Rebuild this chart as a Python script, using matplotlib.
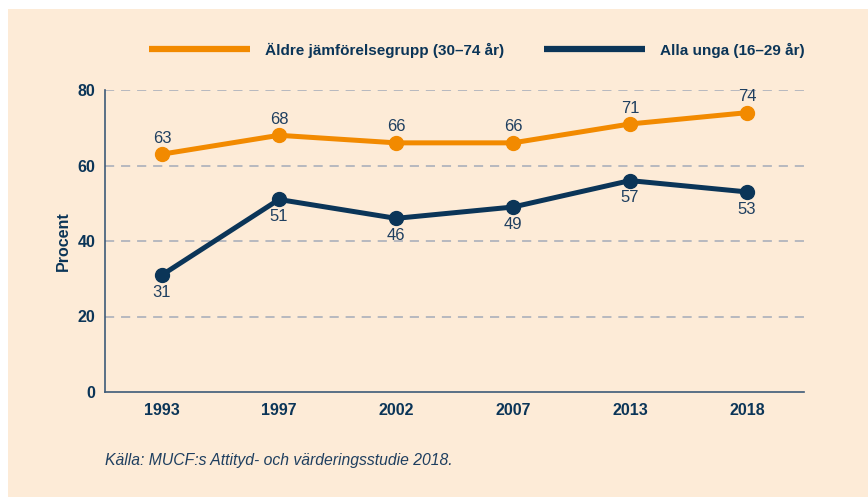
import matplotlib
matplotlib.use('Agg')
import matplotlib.pyplot as plt
from matplotlib.patches import Rectangle

years = ['1993', '1997', '2002', '2007', '2013', '2018']
aldre = [63, 68, 66, 66, 71, 74]
unga = [31, 51, 46, 49, 56, 53]
unga_labels = ['31', '51', '46', '49', '57', '53']
aldre_name = 'Äldre jämförelsegrupp (30–74 år)'
unga_name = 'Alla unga (16–29 år)'
yticks = [0, 20, 40, 60, 80]

orange = '#F28A00'
navy = '#0B3558'
bg = '#FDEBD7'

plt.rcParams['font.family'] = ['Liberation Sans', 'DejaVu Sans']

fig = plt.figure(figsize=(8.68, 4.97), dpi=100)
fig.patches.append(Rectangle((8 / 868, 0), 1, (497 - 9) / 497, transform=fig.transFigure,
                             facecolor=bg, edgecolor='none', zorder=-10))
ax = fig.add_axes([105 / 868, 105 / 497, (804 - 105) / 868, (392 - 90) / 497])
ax.set_facecolor('none')

x = list(range(len(years)))
l1, = ax.plot(x, aldre, color=orange, lw=3.6, marker='o', ms=10, zorder=3, clip_on=False,
              solid_capstyle='butt')
l2, = ax.plot(x, unga, color=navy, lw=3.6, marker='o', ms=10, zorder=3, clip_on=False,
              solid_capstyle='butt')

for i, v in enumerate(aldre):
    ax.annotate(str(v), (i, v), xytext=(0, 11.5), textcoords='offset points',
                ha='center', va='center', fontsize=12, color='#1F3F60')
for i, v in enumerate(unga):
    ax.annotate(unga_labels[i], (i, v), xytext=(0, -12.5), textcoords='offset points',
                ha='center', va='center', fontsize=12, color='#1F3F60')

ax.set_xlim(-0.487, 5.487)
ax.set_ylim(0, 80)
ax.set_xticks(x)
ax.set_xticklabels(years, fontweight='bold', fontsize=11.5, color=navy)
ax.set_yticks(yticks)
ax.set_yticklabels([str(t) for t in yticks], fontweight='bold', fontsize=11.5, color=navy)
ax.tick_params(length=0, pad=7)
ax.tick_params(axis='x', pad=8)

for t in yticks[1:]:
    ax.axhline(t, color='#A3ABB8', lw=1.1, dashes=(6, 4.5), zorder=1)

for s in ['top', 'right']:
    ax.spines[s].set_visible(False)
for s in ['left', 'bottom']:
    ax.spines[s].set_color('#3D5A78')
    ax.spines[s].set_linewidth(1.2)

ax.set_ylabel('Procent', fontweight='bold', fontsize=11.5, color=navy, labelpad=5)

leg = fig.legend([l1, l2], [aldre_name, unga_name], loc='center', bbox_to_anchor=(477 / 868, 1 - 50 / 497),
                 ncol=2, frameon=False, handlelength=6.6, handletextpad=1.0, columnspacing=2.6,
                 prop={'weight': 'bold', 'size': 11})
for h in leg.legend_handles:
    h.set_marker('')
    h.set_linewidth(4.5)
for t in leg.get_texts():
    t.set_color(navy)

fig.text(105 / 868, 1 - 461 / 497, 'Källa: MUCF:s Attityd- och värderingsstudie 2018.',
         fontsize=11.3, style='italic', color='#1F3F60', va='center', ha='left')

fig.savefig('out.png', dpi=100)
